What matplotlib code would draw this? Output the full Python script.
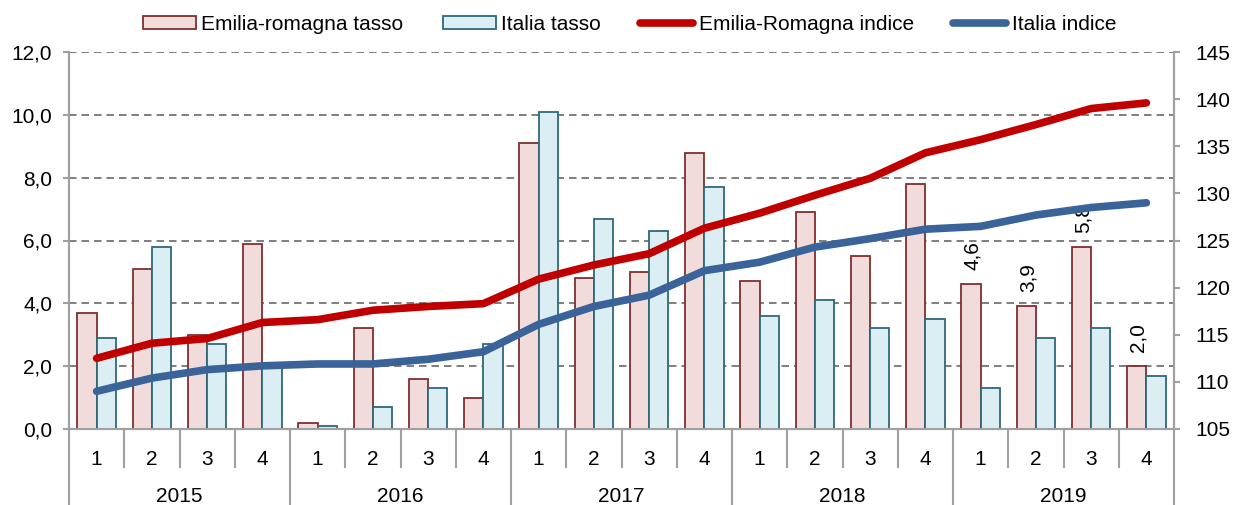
import numpy as np
import matplotlib
matplotlib.use('Agg')
import matplotlib.pyplot as plt
from matplotlib.ticker import FuncFormatter
import matplotlib.transforms as mtransforms

plt.rcParams['font.family'] = ['Liberation Sans', 'DejaVu Sans']

years = ['2015', '2016', '2017', '2018', '2019']
quarters = ['1', '2', '3', '4']

# tasso (left axis)
er_tasso = [3.7, 5.1, 3.0, 5.9, 0.2, 3.2, 1.6, 1.0, 9.1, 4.8, 5.0, 8.8,
            4.7, 6.9, 5.5, 7.8, 4.6, 3.9, 5.8, 2.0]
it_tasso = [2.9, 5.8, 2.7, 2.0, 0.1, 0.7, 1.3, 2.7, 10.1, 6.7, 6.3, 7.7,
            3.6, 4.1, 3.2, 3.5, 1.3, 2.9, 3.2, 1.7]
# indice (right axis)
er_indice = [112.5, 114.1, 114.6, 116.3, 116.6, 117.6, 118.0, 118.3, 120.9, 122.4,
             123.6, 126.3, 127.9, 129.8, 131.6, 134.3, 135.7, 137.3, 139.0, 139.6]
it_indice = [109.0, 110.4, 111.3, 111.7, 111.9, 111.9, 112.4, 113.2, 116.1, 118.0,
             119.2, 121.8, 122.7, 124.3, 125.2, 126.2, 126.5, 127.7, 128.5, 129.0]
labelled = [16, 17, 18, 19]

n = len(er_tasso)
x = np.arange(n)
w = 0.35
fs = 15

fig = plt.figure(figsize=(12.34, 5.05), dpi=100)
ax = fig.add_axes([69 / 1234, 1 - 429 / 505, (1174 - 69) / 1234, (429 - 52) / 505])
ax2 = ax.twinx()

ax.bar(x - w / 2, er_tasso, w, color='#f2dcdb', edgecolor='#7f2f2f', linewidth=1.3,
       label='Emilia-romagna tasso', zorder=3)
ax.bar(x + w / 2, it_tasso, w, color='#dbeef4', edgecolor='#2f6878', linewidth=1.3,
       label='Italia tasso', zorder=3)
for i in labelled:
    ax.text(x[i] - w / 2 + 0.03, er_tasso[i] + 0.45, f'{er_tasso[i]:.1f}'.replace('.', ','),
            rotation=90, ha='center', va='bottom', fontsize=fs, zorder=5)

ax2.plot(x, er_indice, color='#c00000', lw=5.5, solid_capstyle='round',
         label='Emilia-Romagna indice')
ax2.plot(x, it_indice, color='#3a6399', lw=5.5, solid_capstyle='round',
         label='Italia indice')

ax.set_xlim(-0.5, n - 0.5)
ax.set_ylim(0, 12)
ax.set_yticks(np.arange(0, 12.1, 2))
ax.yaxis.set_major_formatter(FuncFormatter(lambda v, p: f'{v:.1f}'.replace('.', ',')))
ax2.set_ylim(105, 145)
ax2.set_yticks(np.arange(105, 146, 5))

ax.yaxis.grid(True, linestyle=(0, (4.5, 3)), color='#686868', linewidth=1.2, zorder=0)
ax.set_axisbelow(True)

for a in (ax, ax2):
    a.spines['top'].set_visible(False)
    for s in ('left', 'right', 'bottom'):
        a.spines[s].set_color('#a0a0a0')
        a.spines[s].set_linewidth(1.5)
    a.tick_params(axis='y', labelsize=fs, colors='#a0a0a0', labelcolor='black',
                  length=4.5, width=1.5, direction='out')
ax.tick_params(axis='y', pad=7.5)
ax2.tick_params(axis='y', pad=11)

# two-level category axis
ax.set_xticks([])
trans = mtransforms.blended_transform_factory(ax.transData, ax.transAxes)
for i in range(n):
    ax.text(x[i], -0.08, quarters[i % 4], transform=trans, ha='center', va='center',
            fontsize=fs)
for j, yr in enumerate(years):
    ax.text(j * 4 + 1.5, -0.178, yr, transform=trans, ha='center', va='center',
            fontsize=fs)
for b in range(n + 1):
    bx = b - 0.5
    y_end = -0.21 if b % 4 == 0 else -0.1
    ax.plot([bx, bx], [0, y_end], transform=trans, color='#a0a0a0', lw=1.5,
            clip_on=False, zorder=1)

h1, l1 = ax.get_legend_handles_labels()
h2, l2 = ax2.get_legend_handles_labels()
fig.legend(h1 + h2, l1 + l2, loc='center', bbox_to_anchor=(0.51, 0.952), ncol=4,
           frameon=False, fontsize=fs, handlelength=2.55, handleheight=0.6,
           columnspacing=1.9, handletextpad=0.25)

fig.savefig('out.png', dpi=100)
